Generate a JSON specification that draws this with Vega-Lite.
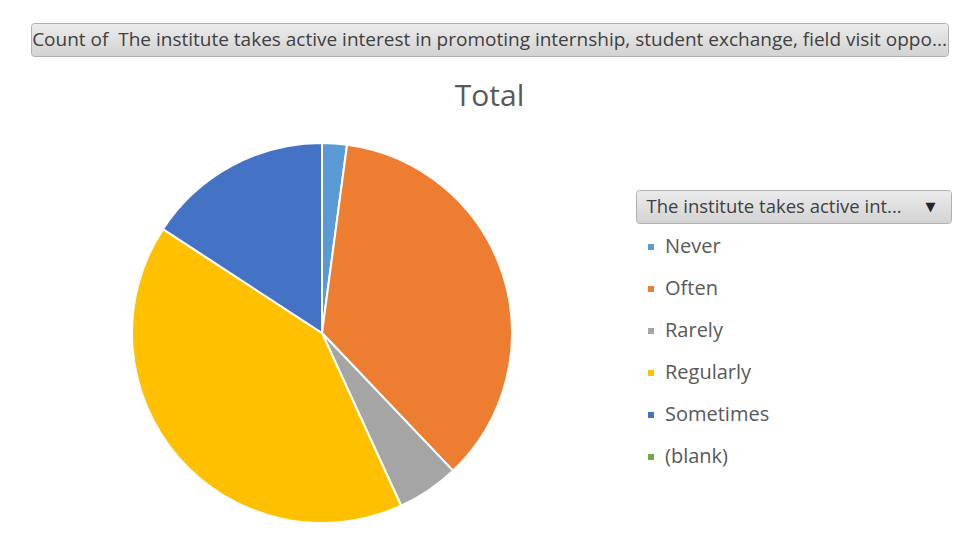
{
  "$schema": "https://vega.github.io/schema/vega-lite/v6.json",
  "background": "white",
  "padding": {"left": 30, "top": 22, "right": 0, "bottom": 0},
  "config": {"font": "Open Sans", "view": {"stroke": null}},
  "spacing": 26,
  "vconcat": [
    {
      "width": 917,
      "height": 33,
      "view": {
        "fill": {"gradient": "linear", "x1": 0, "y1": 0, "x2": 0, "y2": 1, "stops": [{"offset": 0, "color": "#ececec"}, {"offset": 1, "color": "#d2d2d2"}]},
        "stroke": "#b0b0b0",
        "strokeWidth": 1,
        "cornerRadius": 3
      },
      "title": {"text": "Total", "orient": "bottom", "anchor": "middle", "fontSize": 30, "fontWeight": "normal", "color": "#595959", "offset": 26},
      "data": {"values": [{"label": "Count of\u00a0 The institute takes active interest in promoting internship, student exchange, field visit oppo..."}]},
      "mark": {"type": "text", "fontSize": 19, "color": "#404040"},
      "encoding": {"text": {"field": "label"}}
    },
    {
      "spacing": 22,
      "hconcat": [
        {
          "width": 582,
          "height": 380,
          "data": {"values": [
            {"response": "Never", "count": 2},
            {"response": "Often", "count": 34},
            {"response": "Rarely", "count": 5},
            {"response": "Regularly", "count": 39},
            {"response": "Sometimes", "count": 15}
          ]},
          "mark": {"type": "arc", "stroke": "white", "strokeWidth": 2},
          "encoding": {
            "theta": {"field": "count", "type": "quantitative", "stack": true},
            "color": {
              "field": "response",
              "type": "nominal",
              "scale": {
                "domain": ["Never", "Often", "Rarely", "Regularly", "Sometimes", "(blank)"],
                "range": ["#5B9BD5", "#ED7D31", "#A5A5A5", "#FFC000", "#4472C4", "#70AD47"]
              },
              "legend": {
                "orient": "none",
                "legendX": 610,
                "legendY": 214,
                "title": null,
                "padding": 0,
                "symbolType": "square",
                "symbolSize": 36,
                "symbolStrokeWidth": 0,
                "labelFontSize": 20,
                "labelFont": "Open Sans",
                "labelColor": "#595959",
                "labelOffset": 4,
                "rowPadding": 22
              }
            }
          }
        },
        {
          "spacing": 20,
          "vconcat": [
            {
              "width": 315,
              "height": 26,
              "data": {"values": [{"label": ""}]},
              "mark": {"type": "text"},
              "encoding": {"text": {"field": "label"}}
            },
            {
              "width": 315,
              "height": 33,
              "view": {
                "fill": {"gradient": "linear", "x1": 0, "y1": 0, "x2": 0, "y2": 1, "stops": [{"offset": 0, "color": "#ececec"}, {"offset": 1, "color": "#d2d2d2"}]},
                "stroke": "#b0b0b0",
                "strokeWidth": 1,
                "cornerRadius": 3
              },
              "data": {"values": [{"label": "The institute takes active int..."}]},
              "layer": [
                {
                  "mark": {"type": "text", "align": "left", "dx": -147, "fontSize": 18.5, "color": "#404040"},
                  "encoding": {"text": {"field": "label"}}
                },
                {
                  "mark": {"type": "text", "text": "▼", "align": "center", "dx": 137, "fontSize": 13, "font": "DejaVu Sans", "color": "#262626"},
                  "encoding": {}
                }
              ]
            }
          ]
        }
      ]
    }
  ]
}
